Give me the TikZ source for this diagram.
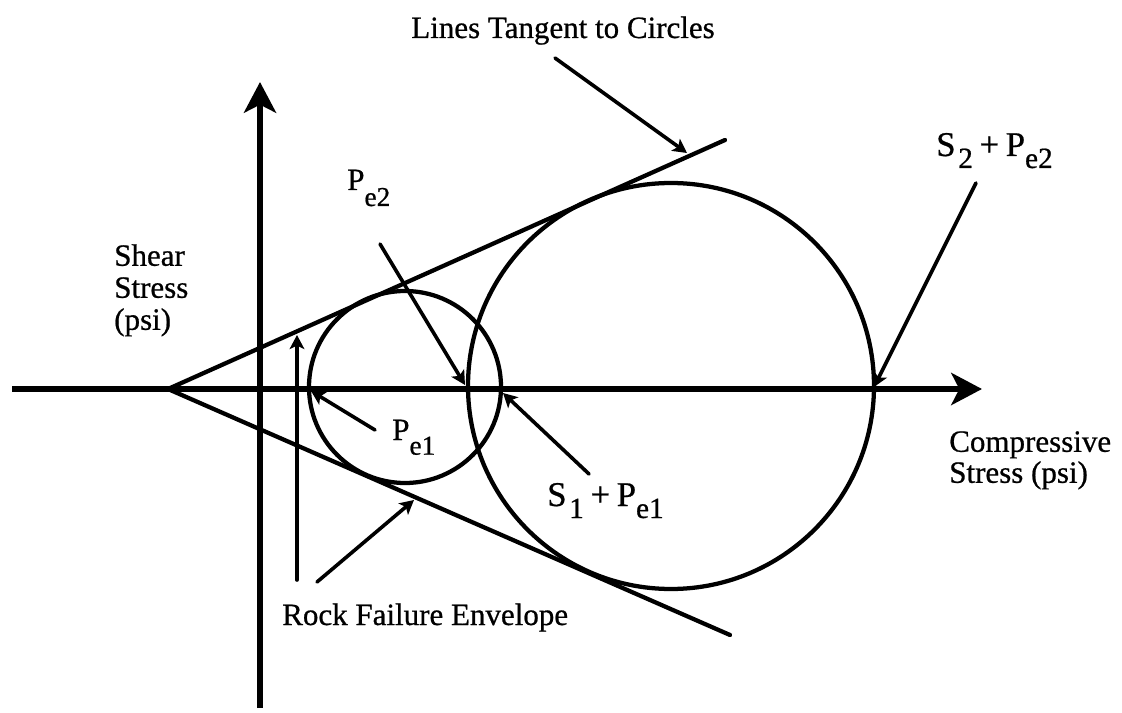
\documentclass[tikz,border=0pt]{standalone}
\usepackage{fontspec}
\setmainfont{Liberation Serif}[FakeBold=0.7]
\usetikzlibrary{arrows.meta}
\newcommand{\lowsub}[2]{\raisebox{-#1}{\fontsize{20.5}{20.5}\selectfont #2}}
\newcommand{\lowsubbig}[2]{\raisebox{-#1}{\fontsize{22}{22}\selectfont #2}}
\begin{document}
\begin{tikzpicture}[x=0.75pt,y=-0.75pt,
  axisline/.style={line width=4.6pt,-{Stealth[length=23pt,width=24pt,inset=6pt]}},
  curve/.style={line width=3.2pt},
  pointer/.style={line width=2.7pt,line cap=round,-{Stealth[length=10.5pt,width=11pt,inset=2.5pt]}},
  lbl/.style={inner sep=0pt,anchor=base west,font=\fontsize{23.25}{24}\selectfont},
  sumlbl/.style={lbl,font=\fontsize{26}{26}\selectfont}
]
\useasboundingbox (0,0) rectangle (1122,713);

% axes
\coordinate (xstart) at (12,389);
\coordinate (xend) at (982,389);
\coordinate (ystart) at (260,708);
\coordinate (yend) at (260,82);
\draw[axisline] (xstart) -- (xend);
\draw[axisline] (ystart) -- (yend);

% circles
\coordinate (c1) at (405,387);
\coordinate (c2) at (671,386);
\draw[curve] (c1) circle[radius=96];
\draw[curve] (c2) circle[radius=203];

% failure envelope
\coordinate (apex) at (168,389);
\coordinate (upend) at (725,140);
\coordinate (lowend) at (730,635);
\draw[curve,line cap=round] (upend) -- (apex) -- (lowend);

% labels
\node[lbl] (tangentlbl) at (411,38) {Lines Tangent to Circles};
\node[lbl,anchor=north west,align=left] (shearlbl) at (114,244) {Shear\\Stress\\(psi)};
\node[lbl,anchor=north west,align=left,font=\fontsize{23.25}{23.25}\selectfont] (complbl) at (949,431) {Compressive\\Stress (psi)};
\node[lbl] (rocklbl) at (282,625) {Rock Failure Envelope};
\node[lbl] (pe2lbl) at (347,190) {P\lowsub{12pt}{e2}};
\node[lbl] (pe1lbl) at (392,440) {P\lowsub{11pt}{e1}};
\node[sumlbl] (s2lbl) at (936,156) {S\hspace{2pt}\lowsubbig{9pt}{2}\hspace{5pt}+\hspace{5pt}P\lowsubbig{9pt}{e2}};
\node[sumlbl] (s1lbl) at (547,506) {S\hspace{2pt}\lowsubbig{9pt}{1}\hspace{5pt}+\hspace{5pt}P\lowsubbig{9pt}{e1}};

% pointer ends
\coordinate (tanfrom) at (555,58);
\coordinate (tanto) at (687,153);
\coordinate (s2from) at (976,183);
\coordinate (s2to) at (874,387);
\coordinate (pe2from) at (380,244);
\coordinate (pe2to) at (465,385);
\coordinate (pe1from) at (375,430);
\coordinate (pe1to) at (311,391);
\coordinate (s1from) at (589,474);
\coordinate (s1to) at (503,393);
\coordinate (rockvfrom) at (297,580);
\coordinate (rockvto) at (297,335);
\coordinate (rockdfrom) at (317,582);
\coordinate (rockdto) at (414,500);

\draw[pointer] (tanfrom) -- (tanto);
\draw[pointer] (s2from) -- (s2to);
\draw[pointer] (pe2from) -- (pe2to);
\draw[pointer] (pe1from) -- (pe1to);
\draw[pointer] (s1from) -- (s1to);
\draw[pointer] (rockvfrom) -- (rockvto);
\draw[pointer] (rockdfrom) -- (rockdto);
\end{tikzpicture}
\end{document}
